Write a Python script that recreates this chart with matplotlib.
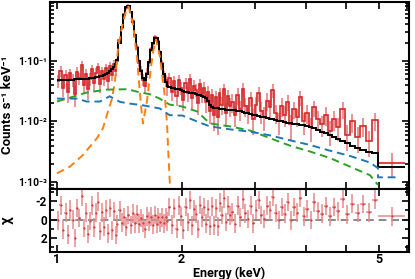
import numpy as np
import matplotlib.pyplot as plt
from matplotlib.ticker import NullFormatter, NullLocator, LogLocator

plt.rcParams['font.family'] = ['Roboto', 'DejaVu Sans']
plt.rcParams['font.weight'] = 'bold'

# bin edges (keV)
edges = [1.000, 1.014, 1.028, 1.042, 1.056, 1.070, 1.084, 1.098, 1.112, 1.126,
         1.140, 1.154, 1.168, 1.182, 1.196, 1.210, 1.224, 1.238, 1.252, 1.266,
         1.280, 1.294, 1.308, 1.322, 1.336, 1.350, 1.364, 1.378, 1.392, 1.407,
         1.425, 1.443, 1.461, 1.479, 1.497, 1.515, 1.533, 1.551, 1.569, 1.587,
         1.605, 1.623, 1.641, 1.659, 1.677, 1.695, 1.713, 1.731, 1.749, 1.767,
         1.785, 1.803, 1.821, 1.839, 1.857,
         1.882, 1.907, 1.932, 1.957, 1.982, 2.007, 2.032, 2.057, 2.082, 2.107,
         2.132, 2.157, 2.182, 2.207, 2.232, 2.257, 2.282, 2.307, 2.332, 2.357,
         2.382, 2.407, 2.432, 2.457, 2.482, 2.512, 2.542, 2.572, 2.602, 2.632,
         2.672, 2.712, 2.752, 2.792, 2.832, 2.872, 2.912, 2.957, 3.002, 3.047,
         3.092, 3.142, 3.192, 3.242, 3.292, 3.347, 3.402, 3.457, 3.517, 3.577,
         3.637, 3.702, 3.767, 3.837, 3.907, 3.982, 4.057, 4.137, 4.222, 4.312,
         4.407, 4.507, 4.612, 4.722, 4.837, 4.962, 5.097, 5.242, 5.402, 5.572,
         5.760, 5.960, 6.920]

# observed rate (counts/s/keV)
rate = [0.047, 0.068, 0.036, 0.058, 0.031, 0.062, 0.049, 0.028, 0.066, 0.052,
        0.085, 0.040, 0.060, 0.034, 0.050, 0.072, 0.043, 0.063, 0.080, 0.041,
        0.067, 0.050, 0.075, 0.046, 0.083, 0.058, 0.090, 0.068, 0.098,
        0.22, 0.35, 0.59, 0.74, 0.81, 0.63, 0.46, 0.26, 0.17, 0.092,
        0.070, 0.049, 0.038, 0.064, 0.092, 0.155, 0.19, 0.245, 0.23, 0.21,
        0.135, 0.091, 0.055, 0.048, 0.037,
        0.052, 0.031, 0.047, 0.026, 0.049, 0.036, 0.023, 0.043, 0.029, 0.051,
        0.024, 0.039, 0.033, 0.020, 0.041, 0.028, 0.036, 0.021, 0.031, 0.015,
        0.027, 0.013, 0.025, 0.012, 0.029, 0.019, 0.034, 0.014, 0.026, 0.018,
        0.021, 0.013, 0.027, 0.016, 0.034, 0.018, 0.014, 0.024, 0.011, 0.019,
        0.029, 0.015, 0.012, 0.022, 0.017, 0.033, 0.014, 0.010, 0.018, 0.013,
        0.021, 0.009, 0.016, 0.012, 0.025, 0.010, 0.014, 0.008, 0.017, 0.011,
        0.009, 0.013, 0.007, 0.011, 0.008, 0.016, 0.006, 0.010, 0.0055, 0.0085,
        0.0048, 0.0105, 0.0021]

rate_err = [0.012, 0.013, 0.011, 0.012, 0.011, 0.012, 0.012, 0.011, 0.013, 0.012,
            0.014, 0.012, 0.012, 0.011, 0.012, 0.013, 0.012, 0.012, 0.013, 0.012,
            0.013, 0.012, 0.013, 0.012, 0.013, 0.012, 0.013, 0.012, 0.014,
            0.02, 0.03, 0.035, 0.04, 0.04, 0.035, 0.03, 0.025, 0.018, 0.014,
            0.012, 0.011, 0.010, 0.012, 0.014, 0.016, 0.018, 0.02, 0.02, 0.018,
            0.016, 0.013, 0.012, 0.011, 0.011,
            0.011, 0.009, 0.010, 0.008, 0.010, 0.009, 0.008, 0.009, 0.008, 0.010,
            0.008, 0.009, 0.008, 0.007, 0.009, 0.008, 0.008, 0.007, 0.008, 0.006,
            0.007, 0.006, 0.007, 0.006, 0.007, 0.006, 0.008, 0.006, 0.007, 0.006,
            0.007, 0.005, 0.008, 0.006, 0.009, 0.006, 0.005, 0.007, 0.005, 0.006,
            0.008, 0.006, 0.005, 0.007, 0.006, 0.009, 0.005, 0.004, 0.006, 0.005,
            0.006, 0.004, 0.005, 0.004, 0.007, 0.004, 0.005, 0.0035, 0.005, 0.004,
            0.0035, 0.0045, 0.003, 0.004, 0.0032, 0.005, 0.0028, 0.0035, 0.0025, 0.003,
            0.0022, 0.0035, 0.0009]

# total folded model per bin
model = [0.048, 0.048, 0.048, 0.049, 0.049, 0.049, 0.049, 0.050, 0.050, 0.050,
         0.050, 0.051, 0.051, 0.051, 0.052, 0.052, 0.053, 0.054, 0.055, 0.056,
         0.057, 0.059, 0.061, 0.064, 0.067, 0.072, 0.078, 0.088, 0.105,
         0.20, 0.36, 0.58, 0.77, 0.79, 0.65, 0.44, 0.27, 0.16, 0.098,
         0.068, 0.053, 0.048, 0.060, 0.095, 0.15, 0.20, 0.235, 0.24, 0.205,
         0.14, 0.088, 0.060, 0.045, 0.039,
         0.037, 0.036, 0.035, 0.034, 0.034, 0.033, 0.032, 0.031, 0.031, 0.030,
         0.029, 0.029, 0.028, 0.027, 0.027, 0.026, 0.025, 0.024, 0.022, 0.019,
         0.017, 0.0168, 0.0166, 0.0164, 0.0162, 0.016, 0.0158, 0.0156, 0.0154, 0.0152,
         0.0155, 0.0152, 0.0149, 0.0146, 0.0143, 0.0140, 0.0137, 0.0134, 0.0130, 0.0126,
         0.0123, 0.0120, 0.0117, 0.0114, 0.0111, 0.0108, 0.0105, 0.0102, 0.0100, 0.0098,
         0.0096, 0.0094, 0.0092, 0.0090, 0.0088, 0.0086, 0.0084, 0.0081, 0.0077, 0.0073,
         0.0068, 0.0064, 0.0060, 0.0056, 0.0052, 0.0048, 0.0044, 0.0040, 0.0037, 0.0034,
         0.0031, 0.0030, 0.0018]

# model components
green_e = [1.0, 1.075, 1.18, 1.32, 1.48, 1.56, 1.68, 1.77, 1.87, 2.01, 2.18, 2.34,
           2.52, 2.62, 2.92, 3.27, 3.65, 4.08, 4.56, 5.1, 5.7, 5.96]
green_v = [0.0213, 0.0247, 0.030, 0.0335, 0.034, 0.031, 0.028, 0.0238, 0.019, 0.0176,
           0.0146, 0.0093, 0.0086, 0.0083, 0.0071, 0.0053, 0.0040, 0.0032, 0.0025,
           0.0018, 0.0013, 0.0009]

blue_e = [1.0, 1.12, 1.18, 1.27, 1.34, 1.42, 1.50, 1.61, 1.77, 1.87, 2.01, 2.22,
          2.34, 2.52, 2.62, 2.92, 3.27, 3.65, 4.08, 4.56, 5.1, 5.7, 5.96, 5.96, 6.6]
blue_v = [0.0238, 0.0238, 0.0213, 0.0213, 0.026, 0.021, 0.0197, 0.0185, 0.0164,
          0.0127, 0.0125, 0.0095, 0.0083, 0.0077, 0.0074, 0.0068, 0.0059, 0.0049,
          0.0041, 0.0033, 0.0027, 0.0021, 0.0017, 0.0012, 0.0012]

orange_e = [1.0, 1.075, 1.155, 1.249, 1.291, 1.328, 1.358, 1.380, 1.404, 1.436,
            1.476, 1.490, 1.526, 1.561, 1.578, 1.596, 1.613, 1.630, 1.650, 1.677,
            1.706, 1.735, 1.773, 1.803, 1.824, 1.845, 1.855, 1.874, 1.896]
orange_v = [0.0014, 0.0018, 0.0028, 0.0053, 0.0077, 0.0146, 0.0238, 0.045, 0.157,
            0.37, 0.76, 0.78, 0.40, 0.11, 0.045, 0.018, 0.0093, 0.014, 0.022, 0.057,
            0.14, 0.225, 0.116, 0.045, 0.024, 0.0086, 0.0036, 0.0009, 0.0003]

x_ticks = [1, 2, 3, 4, 5, 6, 7]
x_labels = ['1', '2', '', '', '', '5', '']

edges = np.array(edges)
rate = np.array(rate)
rate_err = np.array(rate_err)
model = np.array(model)
centers = (edges[:-1] + edges[1:]) / 2
half = (edges[1:] - edges[:-1]) / 2
chi = (model - rate) / rate_err

red = '#d62728'
light = '#e58a8b'

fig = plt.figure(figsize=(4.15, 2.79), dpi=100)
ax = fig.add_axes([0.1205, 0.3226, 0.865, 0.670])
axr = fig.add_axes([0.1205, 0.0968, 0.865, 0.2258])

ax.errorbar(centers, rate, yerr=rate_err, fmt='none', ecolor=light, elinewidth=1.3, zorder=1)
ax.stairs(rate, edges, baseline=None, color=red, lw=1.2, zorder=2)
ax.stairs(model, edges, baseline=None, color='black', lw=1.4, zorder=3)
ax.plot(orange_e, orange_v, color='#ff7f0e', lw=1.4, dashes=(4, 2.5), zorder=4)
ax.plot(green_e, green_v, color='#2ca02c', lw=1.4, dashes=(4, 2.5), zorder=4)
ax.plot(blue_e, blue_v, color='#1f77b4', lw=1.4, dashes=(4, 2.5), zorder=4)

ax.set_xscale('log')
ax.set_yscale('log')
ax.set_xlim(0.962, 7.08)
ax.set_ylim(7.7e-4, 0.93)
ax.set_yticks([1e-3, 1e-2, 1e-1])
ax.set_yticklabels(['1·10⁻³', '1·10⁻²', '1·10⁻¹'], fontsize=7.5, fontweight='bold')
ax.yaxis.set_minor_locator(LogLocator(base=10, subs=np.arange(2, 10)))
ax.yaxis.set_minor_formatter(NullFormatter())
ax.set_xticks(x_ticks)
ax.set_xticklabels([])
ax.xaxis.set_minor_locator(NullLocator())
ax.set_ylabel('Counts s⁻¹ keV⁻¹', fontsize=9.5, fontweight='bold')

axr.errorbar(centers, chi, xerr=half, yerr=1, fmt='.', ms=1, color=red,
             ecolor=light, elinewidth=1.1, zorder=2)
axr.axhline(0, color='#888888', lw=1.4, dashes=(4, 2.5), zorder=1)
axr.set_xscale('log')
axr.set_xlim(0.962, 7.08)
axr.set_ylim(3.5, -3.3)
axr.set_yticks([-2, 0, 2])
axr.set_yticklabels(['-2', '0', '2'], fontsize=8.5, fontweight='bold')
axr.set_yticks([-3, -1, 1, 3], minor=True)
axr.set_xticks(x_ticks)
axr.set_xticklabels(x_labels, fontsize=9, fontweight='bold')
axr.xaxis.set_minor_locator(NullLocator())
axr.xaxis.set_minor_formatter(NullFormatter())
axr.set_xlabel('Energy (keV)', fontsize=9, fontweight='bold', labelpad=0)
axr.set_ylabel('χ', fontsize=10, fontweight='bold')

for a in (ax, axr):
    for s in a.spines.values():
        s.set_linewidth(1.5)
    a.tick_params(which='both', direction='in', top=True, right=True, width=1.2)
    a.tick_params(which='major', length=5, pad=2)
    a.tick_params(which='minor', length=3)
axr.tick_params(axis='x', pad=1)

ax.yaxis.set_label_coords(-0.1, 0.45)
axr.yaxis.set_label_coords(-0.1, 0.5)

fig.savefig('out.png', dpi=100)
